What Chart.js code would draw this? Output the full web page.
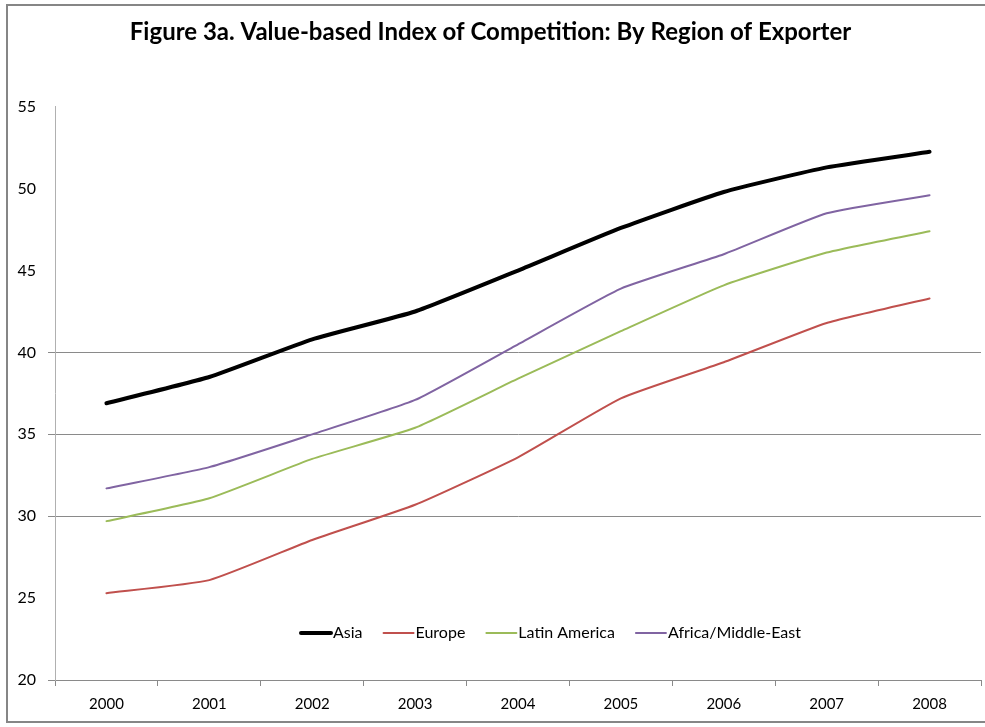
<!DOCTYPE html>
<html>
<head>
<meta charset="utf-8">
<script src="https://cdn.jsdelivr.net/npm/chart.js@4.4.0/dist/chart.umd.min.js"></script>
<style>
  html, body { margin: 0; padding: 0; background: #fff; overflow: hidden; }
  #wrap { width: 985px; height: 727px; position: relative; }
</style>
</head>
<body>
<div id="wrap"><canvas id="c" width="985" height="727"></canvas></div>
<script>
const years = ['2000','2001','2002','2003','2004','2005','2006','2007','2008'];
const asia = [36.9, 38.5, 40.8, 42.5, 45.0, 47.6, 49.8, 51.3, 52.25];
const europe = [25.3, 26.1, 28.55, 30.7, 33.6, 37.2, 39.4, 41.8, 43.3];
const latinAmerica = [29.7, 31.1, 33.5, 35.4, 38.4, 41.3, 44.1, 46.1, 47.4];
const africaMiddleEast = [31.7, 33.0, 35.0, 37.1, 40.5, 43.9, 46.0, 48.5, 49.6];
const seriesNames = ['Asia', 'Europe', 'Latin America', 'Africa/Middle-East'];
const gridValues = [20, 30, 35, 40];

const FONT = 'Lato, "Open Sans", sans-serif';
const GRAY = '#8a8a8a';

const frame = {
  id: 'frame',
  beforeDraw(chart) {
    const ctx = chart.ctx;
    ctx.save();
    ctx.fillStyle = '#fff';
    ctx.fillRect(0, 0, chart.width, chart.height);
    ctx.strokeStyle = '#868686';
    ctx.lineWidth = 2;
    ctx.beginPath();
    ctx.moveTo(chart.width + 5, 5);
    ctx.lineTo(7, 5);
    ctx.lineTo(7, 722);
    ctx.lineTo(chart.width + 5, 722);
    ctx.stroke();
    ctx.restore();
  }
};

const innerLegend = {
  id: 'innerLegend',
  afterDatasetsDraw(chart) {
    const ctx = chart.ctx;
    ctx.save();
    ctx.font = '16px ' + FONT;
    ctx.textBaseline = 'middle';
    let x = 301;
    const y = 633;
    chart.data.datasets.forEach((ds) => {
      ctx.strokeStyle = ds.borderColor;
      ctx.lineWidth = ds.borderWidth;
      ctx.lineCap = 'round';
      ctx.beginPath();
      ctx.moveTo(x, y);
      ctx.lineTo(x + 30, y);
      ctx.stroke();
      ctx.fillStyle = '#000';
      ctx.fillText(ds.label, x + 32, y);
      x += 32 + ctx.measureText(ds.label).width + 21;
    });
    ctx.restore();
  }
};

const mk = (label, data, color, width) => ({
  label, data, borderColor: color, backgroundColor: color,
  borderWidth: width, pointRadius: 0, tension: 0.15, fill: false,
  borderCapStyle: 'round', borderJoinStyle: 'round'
});

new Chart(document.getElementById('c'), {
  type: 'line',
  data: {
    labels: years,
    datasets: [
      mk(seriesNames[0], asia, '#000000', 4),
      mk(seriesNames[1], europe, '#C0504D', 2),
      mk(seriesNames[2], latinAmerica, '#9BBB59', 2),
      mk(seriesNames[3], africaMiddleEast, '#8064A2', 2)
    ]
  },
  options: {
    responsive: false,
    animation: false,
    layout: { padding: { left: 0, right: 4, top: 0, bottom: 0 } },
    plugins: {
      legend: { display: false },
      tooltip: { enabled: false },
      title: {
        display: true,
        text: 'Figure 3a. Value-based Index of Competition: By Region of Exporter',
        color: '#000',
        font: { family: FONT, size: 24, weight: 'bold' },
        padding: { top: 18, bottom: 60 }
      }
    },
    scales: {
      x: {
        offset: true,
        grid: { offset: true, drawOnChartArea: false, drawTicks: true, tickLength: 6, color: GRAY },
        border: { color: GRAY, width: 1 },
        ticks: { color: '#000', font: { family: FONT, size: 15 }, padding: 9, maxRotation: 0 },
        afterFit(s) { s.height = 47; }
      },
      y: {
        min: 20, max: 55,
        ticks: { stepSize: 5, color: '#000', font: { family: FONT, size: 16 }, padding: 12 },
        grid: {
          tickLength: 7,
          color: (c) => (c.tick && gridValues.includes(c.tick.value)) ? GRAY : 'rgba(0,0,0,0)'
        },
        border: { color: '#b0b0b0', width: 1 },
        afterFit(s) { s.width = 55; }
      }
    }
  },
  plugins: [frame, innerLegend]
});
</script>
</body>
</html>
